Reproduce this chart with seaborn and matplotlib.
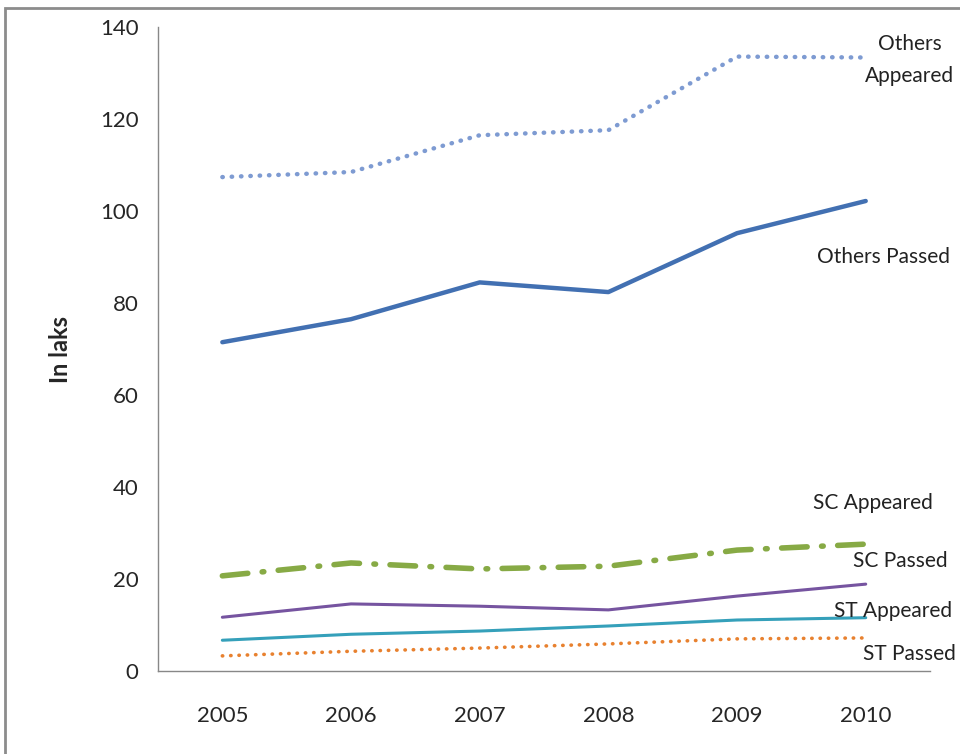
import pandas as pd
import seaborn as sns
import matplotlib.pyplot as plt
from matplotlib.patches import Rectangle

years = ["2005", "2006", "2007", "2008", "2009", "2010"]
others_appeared = [107.4, 108.5, 116.5, 117.6, 133.6, 133.4]
others_passed = [71.5, 76.5, 84.5, 82.4, 95.2, 102.2]
sc_appeared = [20.7, 23.5, 22.2, 22.8, 26.3, 27.6]
sc_passed = [11.7, 14.6, 14.1, 13.3, 16.3, 18.9]
st_appeared = [6.7, 8.0, 8.7, 9.8, 11.1, 11.6]
st_passed = [3.3, 4.3, 5.0, 5.9, 7.0, 7.2]

series_names = ["Others Appeared", "Others Passed", "SC Appeared",
                "SC Passed", "ST Appeared", "ST Passed"]
series_values = [others_appeared, others_passed, sc_appeared,
                 sc_passed, st_appeared, st_passed]

# label text and where it sits (x in category units, y in data units)
label_text = ["Others\nAppeared", "Others Passed", "SC Appeared",
              "SC Passed", "ST Appeared", "ST Passed"]
label_pos = [(5.34, 132.9), (5.14, 90.0), (5.06, 36.5),
             (5.27, 23.9), (5.21, 13.0), (5.34, 3.7)]

styles = {
    "Others Appeared": dict(color="#7E9BD2", lw=3.2, ls=(0, (0.1, 2.0))),
    "Others Passed": dict(color="#4270B2", lw=3.2, ls="-"),
    "SC Appeared": dict(color="#87AA45", lw=4.0, ls=(0, (4.6, 2.6, 0.3, 2.6))),
    "SC Passed": dict(color="#7654A0", lw=2.2, ls="-"),
    "ST Appeared": dict(color="#35A0BA", lw=2.2, ls="-"),
    "ST Passed": dict(color="#E8812F", lw=2.6, ls=(0, (0.1, 2.2))),
}

df = pd.DataFrame({"year": years * len(series_names),
                   "value": sum(series_values, []),
                   "series": [s for s in series_names for _ in years]})
df["x"] = df["year"].map({y: i for i, y in enumerate(years)})

sns.set_style("white")
plt.rcParams["font.family"] = ["Lato", "DejaVu Sans"]

fig = plt.figure(figsize=(9.6, 7.54), dpi=100)
ax = fig.add_axes([0.1646, 0.110, 0.8042, 0.854])

for name in series_names:
    st = styles[name]
    sub = df[df["series"] == name]
    sns.lineplot(data=sub, x="x", y="value", ax=ax, color=st["color"],
                 linewidth=st["lw"], legend=False)
    line = ax.lines[-1]
    line.set_linestyle(st["ls"])
    line.set_dash_capstyle("round")
    line.set_solid_capstyle("round")

for txt, (lx, ly) in zip(label_text, label_pos):
    ax.text(lx, ly, txt, ha="center", va="center", fontsize=15,
            color="#222222", clip_on=False, linespacing=1.75)

ax.set_xlim(-0.5, 5.5)
ax.set_ylim(0, 140)
ax.set_yticks(range(0, 141, 20))
ax.set_xticks([i - 0.5 for i in range(7)])
ax.set_xticklabels([])
ax.set_xticks(range(6), minor=True)
ax.set_xticklabels(years, minor=True)
ax.tick_params(axis="x", which="major", direction="out", length=7,
               width=1, color="#888888")
ax.tick_params(axis="x", which="minor", length=0, pad=25, labelsize=16)
ax.tick_params(axis="y", direction="out", length=6, width=1,
               color="#888888", labelsize=16, pad=8)
ax.set_xlabel("")
ax.set_ylabel("In laks", fontsize=17, fontweight="bold", labelpad=20)

for side in ["top", "right"]:
    ax.spines[side].set_visible(False)
for side in ["left", "bottom"]:
    ax.spines[side].set_color("#888888")
    ax.spines[side].set_linewidth(1)

# outer chart-area border, cut off at right and bottom like the original
fig.patches.append(Rectangle((0.005, -0.2), 1.2, 1.189, transform=fig.transFigure,
                             fill=False, edgecolor="#8C8C8C", linewidth=2))

fig.savefig("out.png", dpi=100)
